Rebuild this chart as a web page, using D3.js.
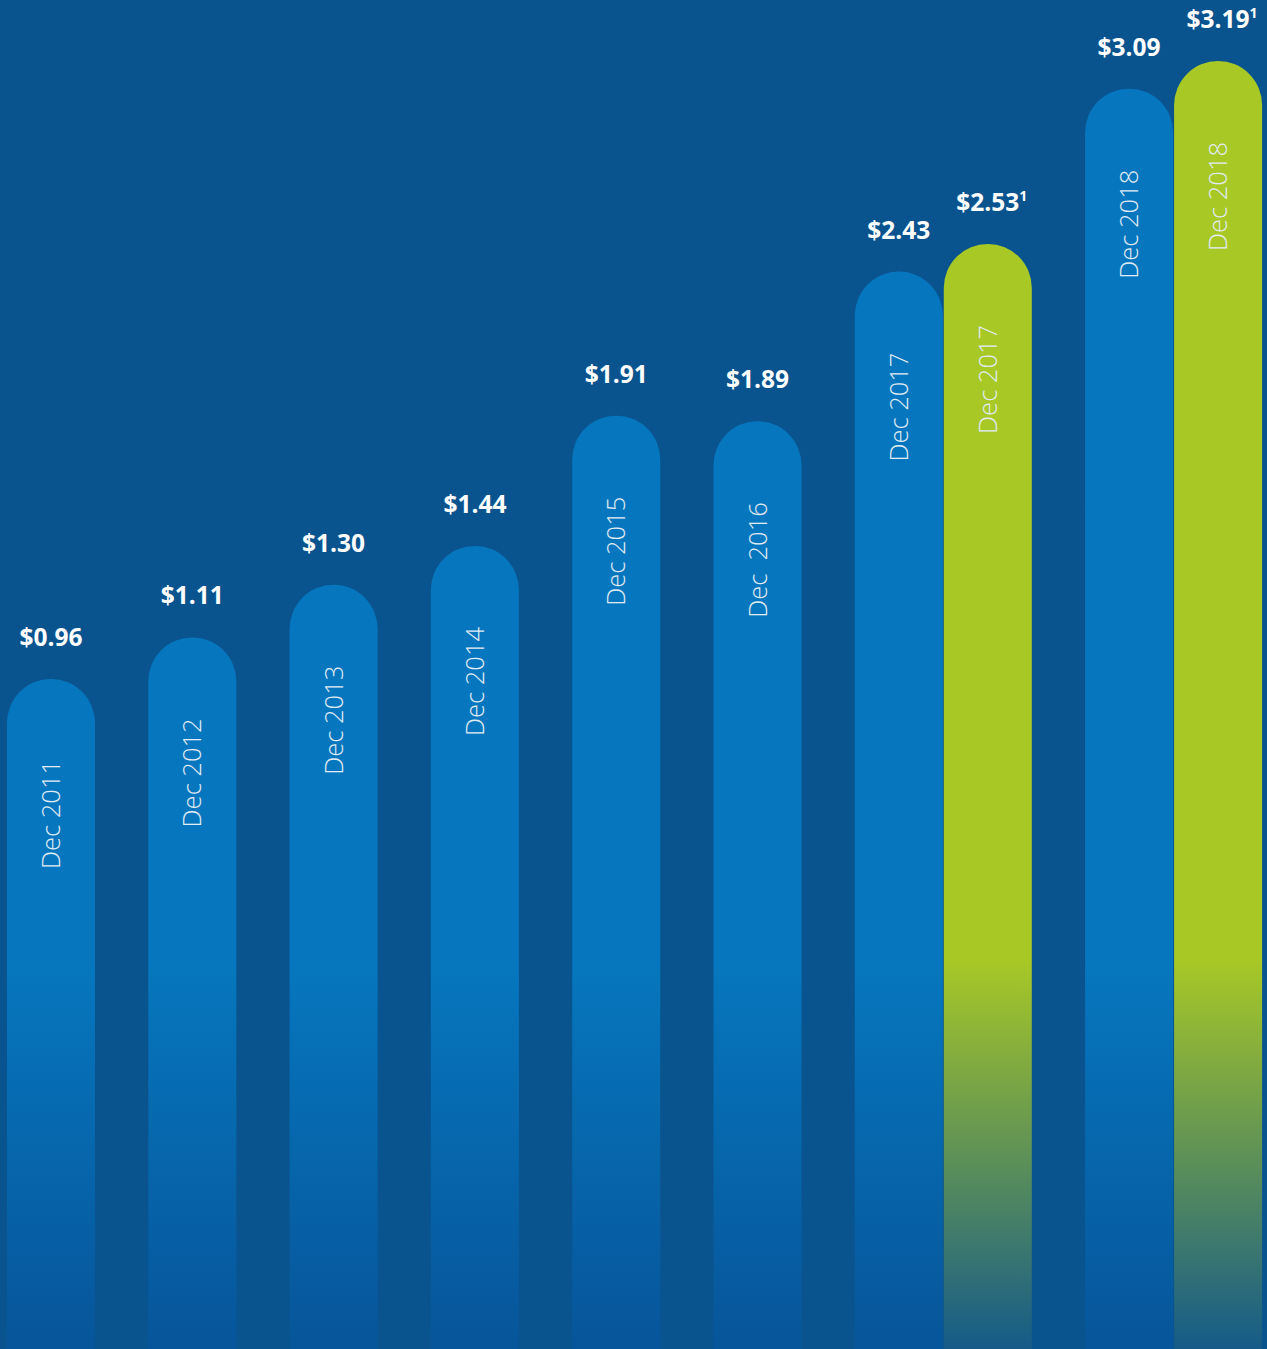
<!DOCTYPE html>
<html>
<head>
<meta charset="utf-8">
<script src="https://cdn.jsdelivr.net/npm/d3@7"></script>
<style>
  html, body { margin: 0; padding: 0; background: #09548f; }
  svg { display: block; }
</style>
</head>
<body>
<svg id="chart"></svg>
<script>
// values per bar, left to right
const labels = ["Dec 2011", "Dec 2012", "Dec 2013", "Dec 2014", "Dec 2015", "Dec  2016", "Dec 2017", "Dec 2017", "Dec 2018", "Dec 2018"];
const values = [0.96, 1.11, 1.30, 1.44, 1.91, 1.89, 2.43, 2.53, 3.09, 3.19];
const series = ["reported", "reported", "reported", "reported", "reported", "reported", "reported", "adjusted", "reported", "adjusted"];
const footnotes = ["", "", "", "", "", "", "", "1", "", "1"];

const width = 1267, height = 1349;
const barW = 88, step = 141.3, left = 7;
const colors = { reported: "#0677be", adjusted: "#a8c826" };
const fadeTo = { reported: "#07559a", adjusted: "#155b88" };

const svg = d3.select("#chart").attr("width", width).attr("height", height);

svg.append("rect").attr("width", width).attr("height", height).attr("fill", "#09548f");

const y = d3.scaleLinear().domain([0, 3.19]).range([945, 61]);

// adjusted bars sit flush against the reported bar before them
let cursor = left - step;
const xs = series.map(s => {
  cursor = s === "adjusted" ? cursor + barW + 1 : cursor + step;
  return cursor;
});

const defs = svg.append("defs");
Object.keys(colors).forEach(k => {
  const g = defs.append("linearGradient")
    .attr("id", "grad-" + k)
    .attr("gradientUnits", "userSpaceOnUse")
    .attr("x1", 0).attr("x2", 0).attr("y1", 960).attr("y2", height);
  g.append("stop").attr("offset", 0).attr("stop-color", colors[k]);
  g.append("stop").attr("offset", 1).attr("stop-color", fadeTo[k]);
});

const data = values.map((v, i) => ({ v, label: labels[i], s: series[i], note: footnotes[i], x: xs[i] }));

function barPath(d) {
  const r = barW / 2, top = y(d.v);
  return `M${d.x},${height} V${top + r} A${r},${r} 0 0 1 ${d.x + barW},${top + r} V${height} Z`;
}

svg.append("g")
  .selectAll("path")
  .data(data)
  .join("path")
  .attr("d", barPath)
  .attr("fill", d => `url(#grad-${d.s})`);

// value labels
const vl = svg.append("g")
  .attr("font-family", "'Open Sans', sans-serif")
  .attr("font-weight", 700)
  .attr("font-size", 24.5)
  .attr("fill", "#fff")
  .selectAll("text")
  .data(data)
  .join("text")
  .attr("x", d => d.x + barW / 2 + (d.note ? 4 : 0))
  .attr("y", d => y(d.v) - 33)
  .attr("text-anchor", "middle");
vl.append("tspan").text(d => "$" + d3.format(".2f")(d.v));
vl.filter(d => d.note).append("tspan")
  .attr("font-size", 14)
  .attr("dy", -10)
  .text(d => d.note);

// rotated category labels inside the bars
svg.append("g")
  .attr("font-family", "'Open Sans', sans-serif")
  .attr("font-weight", 300)
  .attr("font-size", 25.5)
  .attr("fill", "#e2ecf4")
  .selectAll("text")
  .data(data)
  .join("text")
  .attr("transform", d => `translate(${d.x + barW / 2 + 9},${y(d.v) + 81}) rotate(-90)`)
  .attr("text-anchor", "end")
  .style("white-space", "pre")
  .text(d => d.label);
</script>
</body>
</html>
